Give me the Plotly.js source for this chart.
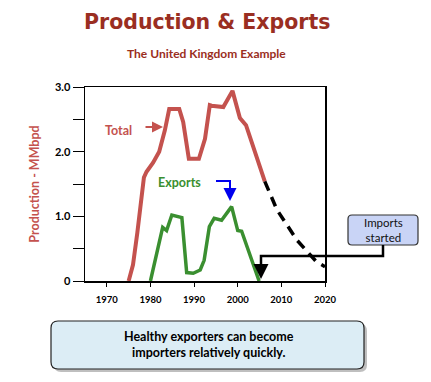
<!DOCTYPE html>
<html>
<head>
<meta charset="utf-8">
<script src="https://cdn.plot.ly/plotly-3.0.1.min.js"></script>
<style>html,body{margin:0;padding:0;background:#fff;}#chart{width:431px;height:382px;}</style>
</head>
<body>
<div id="chart"></div>
<script>
// ---- data ----
const totalYears = [1975,1976,1977,1978,1978.5,1979.1,1980.6,1982,1983.3,1984.3,1986.6,1987.5,1988.8,1991.1,1992.5,1993.6,1994,1996.7,1998.8,2000.5,2001.9,2006.2];
const totalProd  = [0,0.25,0.75,1.3,1.6,1.69,1.83,2.0,2.33,2.66,2.66,2.46,1.89,1.89,2.2,2.72,2.71,2.69,2.94,2.52,2.41,1.54];
const projYears  = [2006.2,2009,2013.6,2016.6,2018,2020];
const projProd   = [1.54,1.1,0.63,0.4,0.3,0.22];
const exportYears = [1980,1982.8,1983.7,1984.9,1987.2,1988.3,1989.8,1991.4,1992.3,1993.5,1994.6,1996.3,1998.6,2000,2000.9,2004.9];
const exportVals  = [0,0.83,0.78,1.02,0.98,0.13,0.12,0.17,0.32,0.84,0.97,0.94,1.15,0.78,0.77,0];
const xTickVals = [1970,1980,1990,2000,2010,2020];
const yTickVals = [0,0.5,1,1.5,2,2.5,3];
const yTickText = ['0','','1.0','','2.0','','3.0'];

// ---- layout helpers (pixel -> paper) ----
const L = 85, R = 325, T = 87, B = 281;
const px = v => (v - L) / (R - L);
const py = v => (B - v) / (B - T);
function roundRect(x0, y0, x1, y1, r) {
  const X = v => px(v).toFixed(5), Y = v => py(v).toFixed(5);
  return `M${X(x0+r)},${Y(y0)} L${X(x1-r)},${Y(y0)} Q${X(x1)},${Y(y0)} ${X(x1)},${Y(y0+r)} ` +
         `L${X(x1)},${Y(y1-r)} Q${X(x1)},${Y(y1)} ${X(x1-r)},${Y(y1)} L${X(x0+r)},${Y(y1)} ` +
         `Q${X(x0)},${Y(y1)} ${X(x0)},${Y(y1-r)} L${X(x0)},${Y(y0+r)} Q${X(x0)},${Y(y0)} ${X(x0+r)},${Y(y0)} Z`;
}
function polyPath(pts) {
  return pts.map((p, i) => (i ? 'L' : 'M') + px(p[0]).toFixed(5) + ',' + py(p[1]).toFixed(5)).join(' ');
}

const RED = '#c4524e', GREEN = '#3a8f30', DARKRED = '#9a2e22';

const traces = [
  {x: totalYears, y: totalProd, mode: 'lines', line: {color: RED, width: 4}, hoverinfo: 'skip'},
  {x: projYears, y: projProd, mode: 'lines', line: {color: '#000', width: 3.5, dash: '10px,7px'}, hoverinfo: 'skip'},
  {x: exportYears, y: exportVals, mode: 'lines', line: {color: GREEN, width: 3.5}, hoverinfo: 'skip'}
];

const layout = {
  width: 431, height: 382,
  margin: {l: L, r: 431 - R, t: T, b: 382 - B, pad: 0},
  paper_bgcolor: '#fff', plot_bgcolor: '#fff',
  showlegend: false,
  font: {family: 'Lato, sans-serif', color: '#000'},
  xaxis: {
    range: [1965, 2020], tickvals: xTickVals, ticks: 'outside', ticklen: 4, tickwidth: 1, tickcolor: '#000',
    showgrid: false, zeroline: false, showline: true, linecolor: '#000', linewidth: 1.5, mirror: true,
    tickfont: {family: 'Lato, sans-serif', size: 9.5, color: '#000', weight: 'bold'}, ticklabelstandoff: 5
  },
  yaxis: {
    range: [0, 3], tickvals: yTickVals, ticktext: yTickText, ticks: 'outside', ticklen: 11, tickwidth: 1, tickcolor: '#000',
    showgrid: false, zeroline: false, showline: true, linecolor: '#000', linewidth: 1.5, mirror: true,
    tickfont: {family: 'Lato, sans-serif', size: 11, color: '#000', weight: 'bold'},
    title: {text: 'Production - MMbpd', font: {family: 'Lato, sans-serif', size: 12.5, color: RED, weight: 'bold'}, standoff: 12}
  },
  shapes: [
    {type: 'path', xref: 'paper', yref: 'paper', path: roundRect(54, 324, 367, 372, 7), fillcolor: 'rgba(0,0,0,0.25)', line: {width: 0}},
    {type: 'path', xref: 'paper', yref: 'paper', path: roundRect(51, 321, 364, 369, 7), fillcolor: '#dcedf5', line: {color: '#222', width: 1.2}},
    {type: 'path', xref: 'paper', yref: 'paper', path: roundRect(348, 215, 418, 245, 4), fillcolor: '#c9d4f6', line: {color: '#333', width: 1.2}},
    {type: 'path', xref: 'paper', yref: 'paper', path: polyPath([[383,245],[383,256],[261,256],[261,270]]), line: {color: '#000', width: 2.5}},
    {type: 'path', xref: 'paper', yref: 'paper', path: polyPath([[216,181],[230,181],[230,192]]), line: {color: '#0000ee', width: 2}}
  ],
  annotations: [
    {xref: 'paper', yref: 'paper', x: px(207), y: py(22), text: 'Production &amp; Exports', showarrow: false,
     font: {family: 'DejaVu Sans, sans-serif', size: 20.5, color: DARKRED, weight: 'bold'}, xanchor: 'center', yanchor: 'middle'},
    {xref: 'paper', yref: 'paper', x: px(206), y: py(54), text: 'The United Kingdom Example', showarrow: false,
     font: {family: 'Lato, sans-serif', size: 12, color: DARKRED, weight: 'bold'}, xanchor: 'center', yanchor: 'middle'},
    {xref: 'paper', yref: 'paper', x: px(118), y: py(130), text: 'Total', showarrow: false,
     font: {family: 'Lato, sans-serif', size: 12.5, color: RED, weight: 'bold'}, xanchor: 'center', yanchor: 'middle'},
    {xref: 'paper', yref: 'paper', x: px(163), y: py(127), ax: -19, ay: 0, text: '', showarrow: true,
     arrowhead: 2, arrowsize: 1.1, arrowwidth: 2, arrowcolor: RED},
    {xref: 'paper', yref: 'paper', x: px(179), y: py(182), text: 'Exports', showarrow: false,
     font: {family: 'Lato, sans-serif', size: 12.5, color: GREEN, weight: 'bold'}, xanchor: 'center', yanchor: 'middle'},
    {xref: 'paper', yref: 'paper', x: px(230), y: py(201), ax: 0, ay: -12, text: '', showarrow: true,
     arrowhead: 2, arrowsize: 1.3, arrowwidth: 2, arrowcolor: '#0000ee'},
    {xref: 'paper', yref: 'paper', x: px(261), y: py(279), ax: 0, ay: -12, text: '', showarrow: true,
     arrowhead: 2, arrowsize: 1.2, arrowwidth: 2.5, arrowcolor: '#000'},
    {xref: 'paper', yref: 'paper', x: px(383), y: py(230), text: 'Imports<br>started', showarrow: false,
     font: {family: 'Lato, sans-serif', size: 11.5, color: '#111'}, xanchor: 'center', yanchor: 'middle', align: 'center'},
    {xref: 'paper', yref: 'paper', x: px(209), y: py(344), text: 'Healthy exporters can become<br>importers relatively quickly.', showarrow: false,
     font: {family: 'Lato, sans-serif', size: 12.5, color: '#000', weight: 'bold'}, xanchor: 'center', yanchor: 'middle', align: 'center'}
  ]
};

Plotly.newPlot('chart', traces, layout, {staticPlot: true, displayModeBar: false});
</script>
</body>
</html>
